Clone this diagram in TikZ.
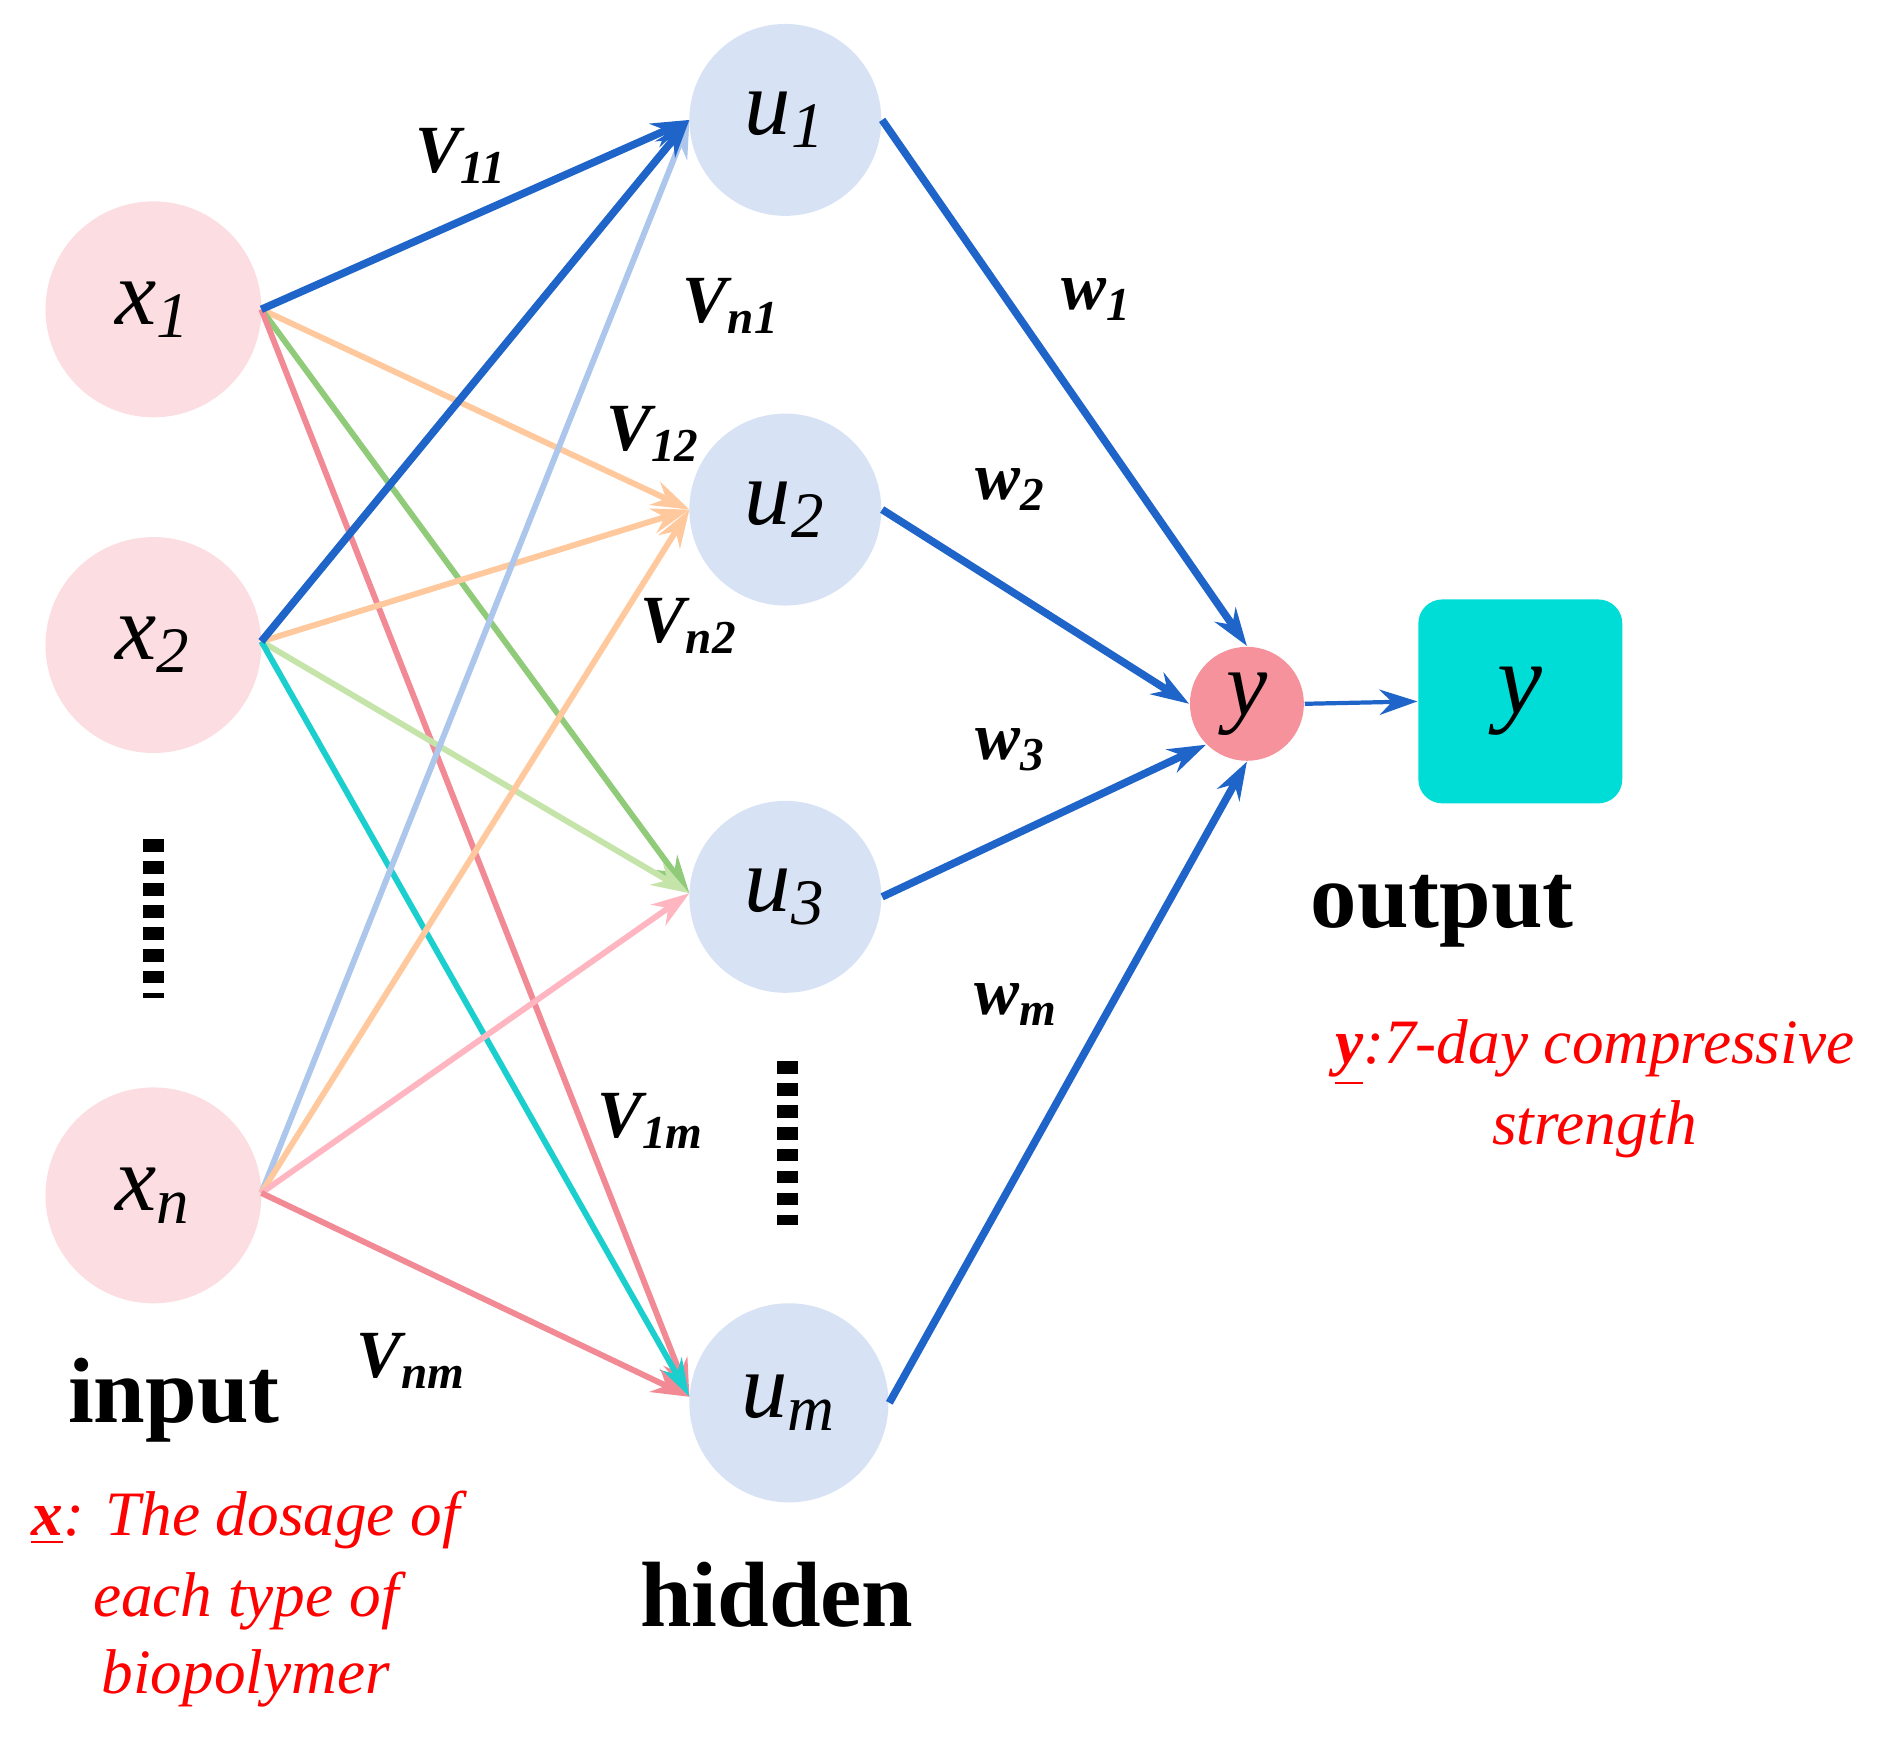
\documentclass[tikz,border=0pt]{standalone}
\usepackage{fontspec}
\setmainfont{Liberation Serif}
\usetikzlibrary{arrows.meta}
\definecolor{inpk}{HTML}{FCDDE1}
\definecolor{hid}{HTML}{D7E3F5}
\definecolor{ynode}{HTML}{F5929C}
\definecolor{outc}{HTML}{00DDD6}
\definecolor{bl}{HTML}{1F64C8}
\definecolor{orl}{HTML}{FFC99D}
\definecolor{gr}{HTML}{8FCB78}
\definecolor{grl}{HTML}{C4E4AA}
\definecolor{rd}{HTML}{F28A95}
\definecolor{cy}{HTML}{1CCFCF}
\definecolor{lb}{HTML}{ADC6EC}
\definecolor{pkl}{HTML}{FFB6C1}
\begin{document}
\begin{tikzpicture}[x=0.01cm,y=-0.01cm,
 inn/.style={circle,fill=inpk,minimum size=1.8cm,inner sep=0pt,font=\fontsize{22}{24}\selectfont\itshape},
 hn/.style={circle,fill=hid,minimum size=1.6cm,inner sep=0pt,font=\fontsize{22}{24}\selectfont\itshape},
 e/.style={line width=1.4pt,-{Stealth[length=9pt,width=6pt]}},
 eb/.style={e,line width=1.8pt},
 lab/.style={font=\fontsize{16}{18}\selectfont\bfseries\itshape},
 big/.style={font=\fontsize{22}{24}\selectfont\bfseries},
 rt/.style={font=\fontsize{15}{17}\selectfont\itshape,text=red}]
\useasboundingbox (0,0) rectangle (1568,1454);
\node[inn] (x1) at (128,258) {x\textsubscript{1}};
\node[inn] (x2) at (128,538) {x\textsubscript{2}};
\node[inn] (xn) at (128,997) {x\textsubscript{n}};
\node[hn] (u1) at (655,100) {u\textsubscript{1}};
\node[hn] (u2) at (655,425) {u\textsubscript{2}};
\node[hn] (u3) at (655,748) {u\textsubscript{3}};
\node[hn,minimum size=1.66cm] (um) at (658,1170) {u\textsubscript{m}};
\node[circle,fill=ynode,minimum size=0.95cm,inner sep=0pt,font=\fontsize{22}{24}\selectfont\itshape] (y) at (1040,587) {y};
\node[fill=outc,rounded corners=0.2cm,minimum size=1.7cm,font=\fontsize{24}{26}\selectfont\itshape] (out) at (1268,585) {y};
\coordinate (a1) at (218,258); \coordinate (a2) at (218,535); \coordinate (an) at (218,995);
\coordinate (b1) at (575,100); \coordinate (b2) at (575,425); \coordinate (b3) at (575,745); \coordinate (bm) at (575,1165);
\draw[e,orl] (a1)--(b2); \draw[e,gr] (a1)--(b3); \draw[e,rd] (a1)--(bm);
\draw[e,orl] (a2)--(b2); \draw[e,grl] (a2)--(b3); \draw[e,cy] (a2)--(bm);
\draw[e,lb] (an)--(b1); \draw[e,orl] (an)--(b2); \draw[e,pkl] (an)--(b3); \draw[e,rd] (an)--(bm);
\draw[eb,bl] (a1)--(b1); \draw[eb,bl] (a2)--(b1);
\draw[eb,bl] (u1.east)--(y.north);
\draw[eb,bl] (u2.east)--(y.west);
\draw[eb,bl] (u3.east)--(y.south west);
\draw[eb,bl] (um.east)--(y.south);
\draw[e,bl,line width=1pt] (y.east)--(out.west);
\draw[line width=5pt,dash pattern=on 3pt off 2.2pt] (128,700)--(128,832);
\draw[line width=5pt,dash pattern=on 3pt off 2.2pt] (657,885)--(657,1022);
\node[lab] at (385,130) {V\textsubscript{11}};
\node[lab] at (610,255) {V\textsubscript{n1}};
\node[lab] at (545,362) {V\textsubscript{12}};
\node[lab] at (575,522) {V\textsubscript{n2}};
\node[lab] at (543,935) {V\textsubscript{1m}};
\node[lab] at (343,1135) {V\textsubscript{nm}};
\node[lab] at (915,250) {w\textsubscript{1}};
\node[lab] at (843,408) {w\textsubscript{2}};
\node[lab] at (843,625) {w\textsubscript{3}};
\node[lab] at (848,838) {w\textsubscript{m}};
\node[big] at (145,1168) {input};
\node[big] at (648,1330) {hidden};
\node[big] at (1203,760) {output};
\node[rt] at (205,1268) {\textbf{\underline{x}}: The dosage of};
\node[rt] at (205,1335) {each type of};
\node[rt] at (205,1400) {biopolymer};
\node[rt] at (1330,878) {\textbf{\underline{y}}:7-day compressive};
\node[rt] at (1330,942) {strength};
\end{tikzpicture}
\end{document}
